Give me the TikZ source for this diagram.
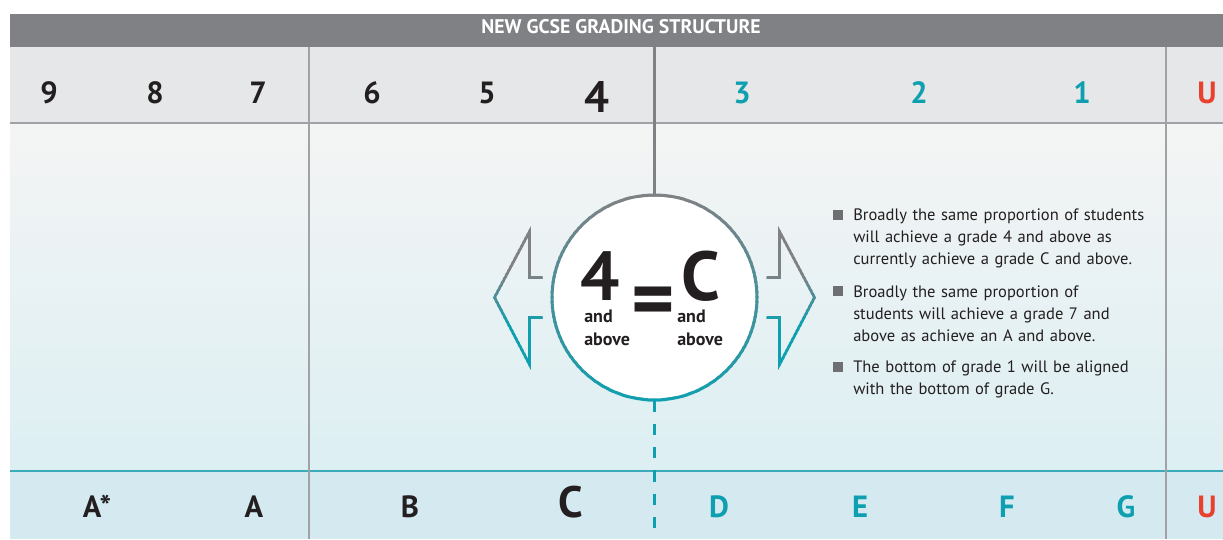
\documentclass[tikz,border=0pt]{standalone}
\usepackage{fontspec}
\setmainfont{PT Sans}
\usetikzlibrary{positioning}
\usepackage{xcolor}
\definecolor{bargray}{RGB}{128,129,132}
\definecolor{rowgray}{RGB}{230,231,232}
\definecolor{septgray}{RGB}{160,162,165}
\definecolor{midtop}{RGB}{244,244,244}
\definecolor{midbottom}{RGB}{220,239,243}
\definecolor{rowcyan}{RGB}{212,234,240}
\definecolor{linecyan}{RGB}{60,170,185}
\definecolor{gradeteal}{RGB}{14,160,176}
\definecolor{gradered}{RGB}{232,65,45}
\definecolor{inkblack}{RGB}{35,31,32}
\definecolor{bulletgray}{RGB}{110,111,114}

% hanging grey square in front of a bullet line
\newcommand{\gradesq}{\makebox[0pt][r]{\textcolor{bulletgray}{\rule[0.75pt]{7.5pt}{7.5pt}}\hspace{7.5pt}}}

\begin{document}
\begin{tikzpicture}[
  x=0.75pt, y=-0.75pt,
  grade/.style={anchor=base, inner sep=0pt, font=\bfseries\fontsize{23}{24}\selectfont},
  bigmark/.style={anchor=base, inner sep=0pt, font=\bfseries\fontsize{33}{36}\selectfont},
  eqmark/.style={anchor=base, inner sep=0pt, text=inkblack, font=\bfseries\fontsize{52}{56}\selectfont},
  andabove/.style={anchor=north west, inner sep=0pt, align=left, text=inkblack, font=\bfseries\fontsize{13.5}{17.25}\selectfont},
  bullet/.style={inner sep=0pt, text width=240pt, align=left, text=inkblack, font=\fontsize{12.4}{16.5}\selectfont},
  ringline/.style={line width=2.25pt},
  arrowline/.style={line width=2pt, line join=miter},
  septline/.style={draw=septgray, line width=0.9pt},
  midline/.style={draw=bargray, line width=2.25pt},
  dashline/.style={draw=gradeteal, line width=2.25pt, dash pattern=on 8.5pt off 9pt}
]
\useasboundingbox (0,0) rectangle (1223,539);

% bands
\fill[bargray] (10,14) rectangle (1223,47);
\fill[rowgray] (10,47) rectangle (1223,123);
\shade[top color=midtop, bottom color=midbottom] (10,123) rectangle (1223,471);
\fill[rowcyan] (10,471) rectangle (1223,539);
\draw[septgray, line width=1.1pt] (10,123) -- (1223,123);
\draw[linecyan, line width=1.1pt] (10,471) -- (1223,471);
\draw[septline] (309,47) -- (309,539);
\draw[septline] (1166,47) -- (1166,539);

\node[anchor=base, inner sep=0pt, text=white, font=\bfseries\fontsize{14.8}{16}\selectfont] (title) at (621,33) {NEW GCSE GRADING STRUCTURE};

% new grades
\foreach \g/\x/\c in {9/49/inkblack, 8/155/inkblack, 7/258/inkblack, 6/372/inkblack, 5/487/inkblack,
                      3/742/gradeteal, 2/919/gradeteal, 1/1082/gradeteal, U/1207/gradered}
  \node[grade, text=\c] (g\g) at (\x,103) {\g};
\node[bigmark, text=inkblack] (g4) at (597,112) {4};

% old grades
\foreach \n/\t/\x/\c in {astar/A*/97/inkblack, a/A/254/inkblack, b/B/410/inkblack,
                         d/D/719/gradeteal, e/E/860/gradeteal, f/F/1007/gradeteal,
                         g/G/1126/gradeteal, u/U/1207/gradered}
  \node[grade, text=\c] (l\n) at (\x,517) {\t};
\node[bigmark, text=inkblack] (lc) at (571,517) {C};

% the 4 = C disc
\node[circle, fill=white, minimum size=153.75pt, inner sep=0pt] (eq) at (654.5,297.5) {};
\coordinate (toprow) at (654.5,47);
\coordinate (botrow) at (654.5,539);
\draw[midline] (toprow) -- (eq.north);
\draw[dashline] (eq.south) -- (botrow);

\begin{scope}[shift={(eq.center)}]
  % ring, grey on top fading to teal underneath
  \foreach \k in {0,...,42}{
    \pgfmathsetmacro\tealpct{min(100,max(0,(5*\k)/210*100))}
    \begin{scope}
      \clip (-110,{-106+5*\k}) rectangle (110,{-100+5*\k});
      \draw[ringline, draw=gradeteal!\tealpct!bargray] (0,0) circle[radius=76.875pt];
    \end{scope}
  }
  % open arrows either side
  \foreach \s in {-1,1}{
    \foreach \k in {0,...,35}{
      \pgfmathsetmacro\tealpct{min(100,max(0,(-72+4*\k+26)/52*100))}
      \begin{scope}
        \clip ({\s*100},{-72+4*\k}) rectangle ({\s*170},{-67.5+4*\k});
        \draw[arrowline, draw=gradeteal!\tealpct!bargray]
          ({\s*112},-20) -- ({\s*125},-20) -- ({\s*125},-66) -- ({\s*160},0)
          -- ({\s*125},67) -- ({\s*125},20) -- ({\s*112},20);
      \end{scope}
    }
  }
\end{scope}

\node[eqmark] (four) at (600,300) {4};
\node[eqmark] (cee) at (701,300) {C};
\node[inner sep=0pt, text=inkblack, font=\bfseries\fontsize{62}{64}\selectfont] (equals) at (653,307) {=};
\node[andabove] (fourabove) at (584,310) {and\\above};
\node[andabove] (ceeabove) at (677,310) {and\\above};

% notes
\node[bullet, anchor=north west] (b1) at (853,209) {\gradesq Broadly the same proportion of students\\will achieve a grade 4 and above as\\currently achieve a grade C and above.};
\node[bullet, below=4.4mm of b1] (b2) {\gradesq Broadly the same proportion of\\students will achieve a grade 7 and\\above as achieve an A and above.};
\node[bullet, below=5mm of b2] (b3) {\gradesq The bottom of grade 1 will be aligned\\with the bottom of grade G.};
\end{tikzpicture}
\end{document}
